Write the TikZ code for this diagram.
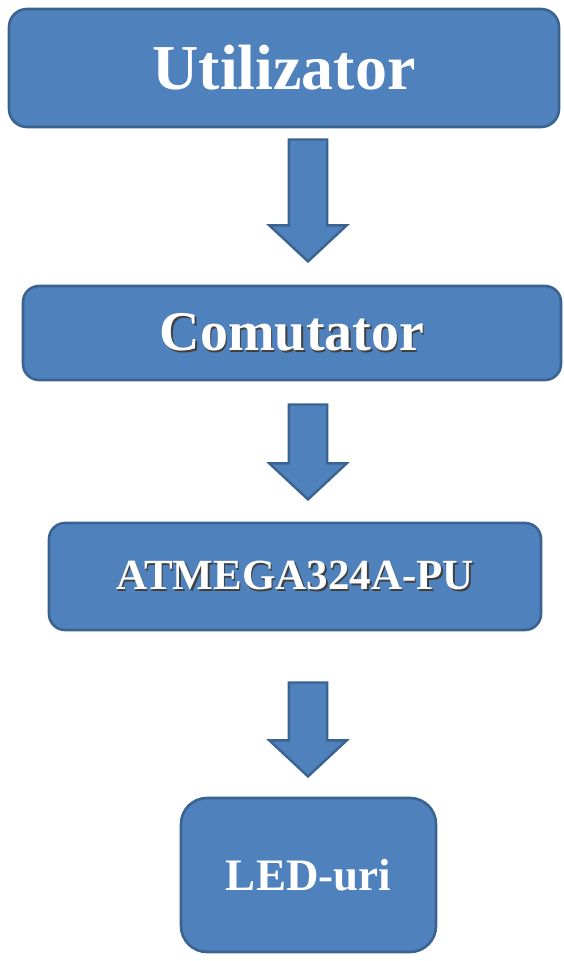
\documentclass[tikz,border=0pt]{standalone}
\usepackage{fontspec}
\setmainfont{Liberation Serif}
\usetikzlibrary{shapes.arrows}
\definecolor{boxfill}{HTML}{4F81BD}
\definecolor{boxline}{HTML}{3A6391}
\newcommand{\shadowed}[1]{\makebox[0pt][l]{\hspace{1.6pt}\raisebox{-1.6pt}{\color{black!75}#1}}#1}

\begin{document}
\begin{tikzpicture}[x=1pt,y=-1pt]
                  \tikzstyle{every node}+=[inner sep=0pt]
                  \tikzstyle{blockbox}=[draw=boxline,fill=boxfill,line width=2.6pt,text=white,font=\bfseries]
                  \tikzstyle{downarrow}=[single arrow,shape border rotate=270,draw=boxline,fill=boxfill,line width=2.4pt,
                      inner sep=18pt,single arrow head extend=19.5pt,single arrow tip angle=94,single arrow head indent=0pt]
                  \useasboundingbox (0,0) rectangle (564,961);
                  \node [blockbox,rounded corners=18pt,minimum width=550pt,minimum height=118pt] (user) at (284,68)
                      {\fontsize{64}{70}\selectfont Utilizator};
                  \node [blockbox,rounded corners=16pt,minimum width=538pt,minimum height=94pt] (switch) at (292,333)
                      {\fontsize{56}{60}\selectfont\shadowed{Comutator}};
                  \node [blockbox,rounded corners=16pt,minimum width=492pt,minimum height=107pt] (mcu) at (295,576.5)
                      {\fontsize{43}{47}\selectfont\shadowed{ATMEGA324A-PU}};
                  \node [blockbox,rounded corners=26pt,minimum width=255pt,minimum height=154pt] (leds) at (308.5,875)
                      {\fontsize{45}{50}\selectfont LED-uri};
                  \node [downarrow,minimum height=122pt] (a1) at (308,191.5) {};
                  \node [downarrow,minimum height=95pt] (a2) at (308,443) {};
                  \node [downarrow,minimum height=94pt] (a3) at (308,720.5) {};
\end{tikzpicture}
\end{document}
